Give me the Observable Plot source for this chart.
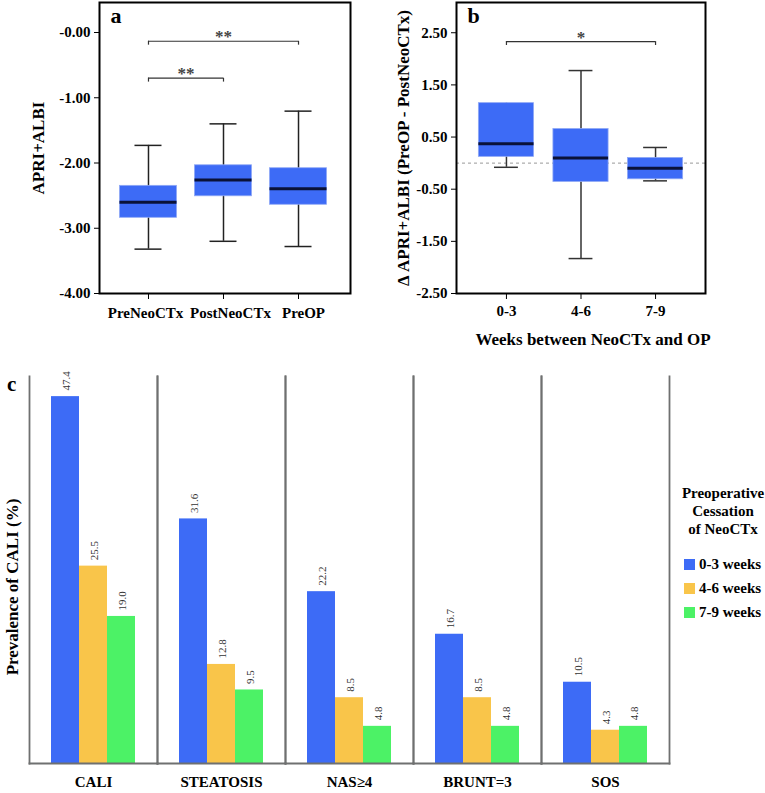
<!DOCTYPE html>
<html>
<head>
<meta charset="utf-8">
<script src="https://cdn.jsdelivr.net/npm/d3@7"></script>
<script src="https://cdn.jsdelivr.net/npm/@observablehq/plot@0.6"></script>
<style>
  html, body { margin: 0; padding: 0; background: #fff; }
  #wrap { position: relative; width: 765px; height: 793px; font-family: "Liberation Serif", "Times New Roman", Times, "DejaVu Serif", serif; color: #000; }
  .panel { position: absolute; }
  .panel svg { overflow: visible; }
  .panel svg text { font-family: "Liberation Serif", "Times New Roman", Times, "DejaVu Serif", serif; }
  .panel svg g[aria-label="y-axis label"] text { font-size: 17px; }
  #legend { position: absolute; left: 676px; top: 484px; width: 94px; font-weight: bold; font-size: 15px; }
  #legend .title { text-align: center; line-height: 18px; margin-bottom: 14px; }
  #legend .item { display: flex; align-items: center; height: 24px; }
  #legend .sw { width: 11px; height: 11px; margin: 0 4px 0 8px; }
  #clabel { position: absolute; left: 7px; top: 372px; font-size: 21px; font-weight: bold; }
  #cytitle { position: absolute; left: 13px; top: 587px; transform: translate(-50%,-50%) rotate(-90deg); white-space: nowrap; font-size: 17px; font-weight: bold; }
</style>
</head>
<body>
<div id="wrap">
  <div class="panel" id="pa" style="left:0;top:0"></div>
  <div class="panel" id="pb" style="left:380px;top:0"></div>
  <div class="panel" id="pc" style="left:0;top:345px"></div>
  <div id="clabel">c</div>
  <div id="cytitle">Prevalence of CALI (%)</div>
  <div id="legend"></div>
</div>
<script>
// ---------- Panel a data ----------
const aCategories = ["PreNeoCTx", "PostNeoCTx", "PreOP"];
const aLow    = [-3.32, -3.20, -3.28];
const aQ1     = [-2.84, -2.51, -2.64];
const aMedian = [-2.60, -2.26, -2.395];
const aQ3     = [-2.35, -2.035, -2.08];
const aHigh   = [-1.73, -1.40, -1.205];
const aTicks = [0, -1, -2, -3, -4];
const aTickLabels = ["-0.00", "-1.00", "-2.00", "-3.00", "-4.00"];
const aBracketFrom = [0, 0];
const aBracketTo   = [2, 1];
const aBracketY    = [-0.134, -0.70];
const aBracketText = ["**", "**"];

// ---------- Panel b data ----------
const bCategories = ["0-3", "4-6", "7-9"];
const bLow    = [-0.08, -1.83, -0.34];
const bQ1     = [0.12, -0.36, -0.31];
const bMedian = [0.37, 0.096, -0.10];
const bQ3     = [1.15, 0.654, 0.10];
const bHigh   = [1.15, 1.775, 0.30];
const bTicks = [2.5, 1.5, 0.5, -0.5, -1.5, -2.5];
const bBracketFrom = [0];
const bBracketTo   = [2];
const bBracketY    = [2.33];
const bBracketText = ["*"];

// ---------- Panel c data ----------
const cCategories = ["CALI", "STEATOSIS", "NAS≥4", "BRUNT=3", "SOS"];
const cPeriods = ["0-3 weeks", "4-6 weeks", "7-9 weeks"];
const cValues03 = [47.4, 31.6, 22.2, 16.7, 10.5];
const cValues46 = [25.5, 12.8, 8.5, 8.5, 4.3];
const cValues79 = [19.0, 9.5, 4.8, 4.8, 4.8];
const cColors = ["#3d6bf6", "#f9c54a", "#4cf266"];

const BLUE = "#3d6bf6";
const FONT = "'Liberation Serif', 'Times New Roman', Times, 'DejaVu Serif', serif";
// small horizontal nudges so the bold category names of panel a do not collide
const aLabelNudge = [-3, 7, 5];

function boxTable(cats, lo, q1, med, q3, hi) {
  return cats.map((c, i) => ({i, c, lo: lo[i], q1: q1[i], med: med[i], q3: q3[i], hi: hi[i]}));
}
function bracketTable(from, to, y, text) {
  return from.map((f, k) => ({from: f, to: to[k], y: y[k], text: text[k], mid: (f + to[k]) / 2}));
}
function bracketEnds(br) {
  return br.flatMap(b => [{x: b.from, y: b.y}, {x: b.to, y: b.y}]);
}

function boxMarks(data, half, capHalf, whiskerColor) {
  return [
    Plot.ruleX(data, {x: "i", y1: "lo", y2: "hi", stroke: whiskerColor, strokeWidth: 1.5}),
    Plot.ruleY(data, {y: "lo", x1: d => d.i - capHalf, x2: d => d.i + capHalf, stroke: whiskerColor, strokeWidth: 1.5}),
    Plot.ruleY(data.filter(d => d.hi > d.q3), {y: "hi", x1: d => d.i - capHalf, x2: d => d.i + capHalf, stroke: whiskerColor, strokeWidth: 1.5}),
    Plot.rect(data, {x1: d => d.i - half, x2: d => d.i + half, y1: "q1", y2: "q3", fill: BLUE, stroke: "#8fa8f5", strokeWidth: 0.8}),
    Plot.ruleY(data, {y: "med", x1: d => d.i - half, x2: d => d.i + half, stroke: "#0a1238", strokeWidth: 3})
  ];
}
function bracketMarks(br, drop) {
  return [
    Plot.ruleY(br, {y: "y", x1: "from", x2: "to", stroke: "#333", strokeWidth: 1.2}),
    Plot.ruleX(bracketEnds(br), {x: "x", y1: "y", y2: d => d.y - drop, stroke: "#333", strokeWidth: 1.2}),
    Plot.text(br, {x: "mid", y: "y", text: "text", dy: 1, lineAnchor: "bottom", fontSize: 17, fontWeight: "bold", fill: "#444"})
  ];
}

// ---------- Panel a ----------
const aData = boxTable(aCategories, aLow, aQ1, aMedian, aQ3, aHigh);
const aBr = bracketTable(aBracketFrom, aBracketTo, aBracketY, aBracketText);
const plotA = Plot.plot({
  width: 380, height: 350,
  marginLeft: 99, marginRight: 30, marginTop: 2, marginBottom: 57,
  style: {fontFamily: FONT, fontSize: "15px", fontWeight: "bold", background: "transparent", color: "#000"},
  x: {domain: [-0.653, 2.693], label: null, axis: null},
  y: {domain: [-4, 0.46], ticks: aTicks, tickFormat: d => aTickLabels[aTicks.indexOf(d)], tickSize: 5, tickPadding: 4,
      label: "APRI+ALBI", labelAnchor: "center", labelOffset: 68, labelArrow: "none"},
  marks: [
    Plot.axisX([0, 1, 2], {tickSize: 6, text: null, label: null}),
    ...aCategories.map((c, i) => Plot.text([i], {x: d => d, text: () => c, frameAnchor: "bottom", dy: 24, dx: aLabelNudge[i], fontSize: 15, fontWeight: "bold"})),
    ...boxMarks(aData, 0.38, 0.18, "#222"),
    ...bracketMarks(aBr, 0.06),
    Plot.text(["a"], {frameAnchor: "top-left", dx: 11, dy: 5, lineAnchor: "top", fontSize: 22, fontWeight: "bold"}),
    Plot.frame({stroke: "#000", strokeWidth: 2})
  ]
});
document.getElementById("pa").appendChild(plotA);

// ---------- Panel b ----------
const bData = boxTable(bCategories, bLow, bQ1, bMedian, bQ3, bHigh);
const bBr = bracketTable(bBracketFrom, bBracketTo, bBracketY, bBracketText);
const plotB = Plot.plot({
  width: 385, height: 350,
  marginLeft: 76, marginRight: 60, marginTop: 2, marginBottom: 57,
  style: {fontFamily: FONT, fontSize: "15px", fontWeight: "bold", background: "transparent", color: "#000"},
  x: {domain: [-0.67, 2.67], ticks: [0, 1, 2], tickFormat: i => bCategories[i], tickSize: 6, tickPadding: 6, label: null},
  y: {domain: [-2.5, 3.08], ticks: bTicks, tickFormat: d => d.toFixed(2), tickSize: 5, tickPadding: 4,
      label: "Δ APRI+ALBI (PreOP - PostNeoCTx)", labelAnchor: "center", labelOffset: 60, labelArrow: "none"},
  marks: [
    Plot.ruleY([0], {stroke: "#999", strokeWidth: 1, strokeDasharray: "3,3"}),
    ...boxMarks(bData, 0.37, 0.16, "#333"),
    ...bracketMarks(bBr, 0.075),
    Plot.text(["Weeks between NeoCTx and OP"], {frameAnchor: "bottom", dy: 51, dx: 12, fontSize: 17, fontWeight: "bold"}),
    Plot.text(["b"], {frameAnchor: "top-left", dx: 11, dy: 5, lineAnchor: "top", fontSize: 22, fontWeight: "bold"}),
    Plot.frame({stroke: "#000", strokeWidth: 2})
  ]
});
document.getElementById("pb").appendChild(plotB);

// ---------- Panel c ----------
const cSeries = [cValues03, cValues46, cValues79];
const cData = cCategories.flatMap((cat, g) => cPeriods.map((p, j) => ({cat, period: p, value: cSeries[j][g]})));
const plotC = Plot.plot({
  width: 765, height: 448,
  marginLeft: 28, marginRight: 95, marginTop: 31, marginBottom: 30,
  style: {fontFamily: FONT, fontSize: "15px", fontWeight: "bold", background: "transparent", color: "#000"},
  fx: {domain: cCategories, padding: 0, axis: "bottom", tickSize: 0, tickPadding: 13, label: null},
  x: {domain: cPeriods, paddingInner: 0, paddingOuter: 0.714, axis: null},
  y: {domain: [0, 50], axis: null},
  color: {domain: cPeriods, range: cColors},
  marks: [
    Plot.barY(cData, {fx: "cat", x: "period", y: "value", fill: "period"}),
    Plot.text(cData, {fx: "cat", x: "period", y: "value", text: d => d.value.toFixed(1), rotate: -90, textAnchor: "start",
      lineAnchor: "middle", dy: -6, dx: 1, fontSize: 11, fontWeight: "normal", fill: "#333"}),
    Plot.frame({anchor: "left", stroke: "#6f7070", strokeWidth: 1.8}),
    Plot.frame({anchor: "right", stroke: "#6f7070", strokeWidth: 1.8}),
    Plot.frame({anchor: "bottom", stroke: "#6f7070", strokeWidth: 1.8})
  ]
});
document.getElementById("pc").appendChild(plotC);

// ---------- Legend ----------
const legend = document.getElementById("legend");
const t = document.createElement("div");
t.className = "title";
t.innerHTML = "Preoperative<br>Cessation<br>of NeoCTx";
legend.appendChild(t);
cPeriods.forEach((p, j) => {
  const it = document.createElement("div");
  it.className = "item";
  const sw = document.createElement("span");
  sw.className = "sw";
  sw.style.background = cColors[j];
  const lab = document.createElement("span");
  lab.textContent = p;
  it.appendChild(sw); it.appendChild(lab);
  legend.appendChild(it);
});
</script>
</body>
</html>
